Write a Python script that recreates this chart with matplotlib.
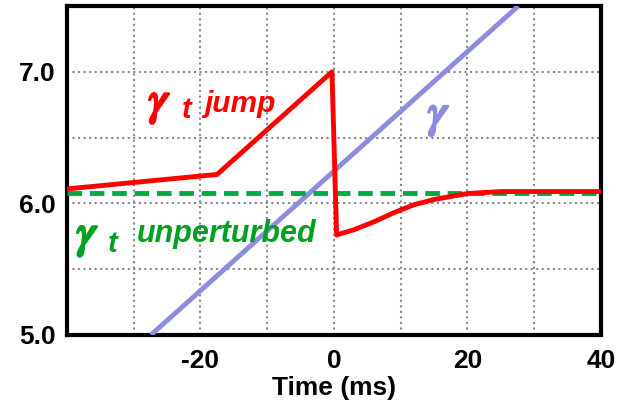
import numpy as np
import matplotlib.pyplot as plt
import matplotlib.patheffects as pe

plt.rcParams['font.family'] = ['Liberation Sans', 'DejaVu Sans']
plt.rcParams['mathtext.fontset'] = 'stix'

# gamma_t with jump (red)
jump_t = [-40, -17.5, -0.3, 0.4, 3, 6, 9, 12, 15, 20, 25, 30, 40]
jump_y = [6.11, 6.22, 7.0, 5.76, 5.80, 5.86, 5.93, 5.99, 6.03, 6.075, 6.09, 6.09, 6.09]

# gamma_t unperturbed (green dashed)
unpert_t = [-40, 40]
unpert_y = [6.08, 6.08]

# gamma (blue)
gamma_t = [-27.4, 27.6]
gamma_y = [5.0, 7.5]

xticks = [-40, -30, -20, -10, 0, 10, 20, 30, 40]
xlabels = ['', '', '-20', '', '0', '', '20', '', '40']
yticks = [5.0, 5.5, 6.0, 6.5, 7.0, 7.5]
ylabels = ['5.0', '', '6.0', '', '7.0', '']

fig = plt.figure(figsize=(6.19, 4.05), dpi=100)
ax = fig.add_axes([0.108, 0.173, 0.863, 0.812])

ax.plot(gamma_t, gamma_y, color='#8c8ce0', lw=3.5, solid_capstyle='butt', zorder=3)
ax.plot(unpert_t, unpert_y, color='#00aa44', lw=3.5, ls=(0, (3, 1.6)), zorder=4)
ax.plot(jump_t, jump_y, color='#ff0000', lw=3.5, zorder=5)

ax.set_xlim(-40, 40)
ax.set_ylim(5.0, 7.5)
ax.set_xticks(xticks)
ax.set_xticklabels(xlabels)
ax.set_yticks(yticks)
ax.set_yticklabels(ylabels)
ax.tick_params(length=0, labelsize=19)
ax.tick_params(axis='x', pad=10)
ax.tick_params(axis='y', pad=8)
for lab in ax.get_xticklabels() + ax.get_yticklabels():
    lab.set_fontweight('bold')
ax.grid(True, color='#888888', ls=':', lw=1.5)
for s in ax.spines.values():
    s.set_linewidth(3)
ax.set_xlabel('Time (ms)', fontsize=19, fontweight='bold', labelpad=2)

gam = r'$\gamma$'


def thick(c):
    return [pe.withStroke(linewidth=1.8, foreground=c)]


red = '#ff0000'
green = '#00a020'
blue = '#8c8ce0'

ax.text(-27.8, 6.755, gam, color=red, fontsize=34, va='center', path_effects=thick(red))
ax.text(-22.8, 6.65, 't', color=red, fontsize=21, style='italic', fontweight='bold', va='baseline')
ax.text(-19.4, 6.695, 'jump', color=red, fontsize=21.5, style='italic', fontweight='bold', va='baseline')

ax.text(14.0, 6.66, gam, color=blue, fontsize=34, va='center', path_effects=thick(blue))

ax.text(-38.6, 5.745, gam, color=green, fontsize=34, va='center', path_effects=thick(green))
ax.text(-33.9, 5.63, 't', color=green, fontsize=21, style='italic', fontweight='bold', va='baseline')
ax.text(-29.5, 5.705, 'unperturbed', color=green, fontsize=22, style='italic', fontweight='bold', va='baseline')

fig.savefig('out.png', dpi=100)
